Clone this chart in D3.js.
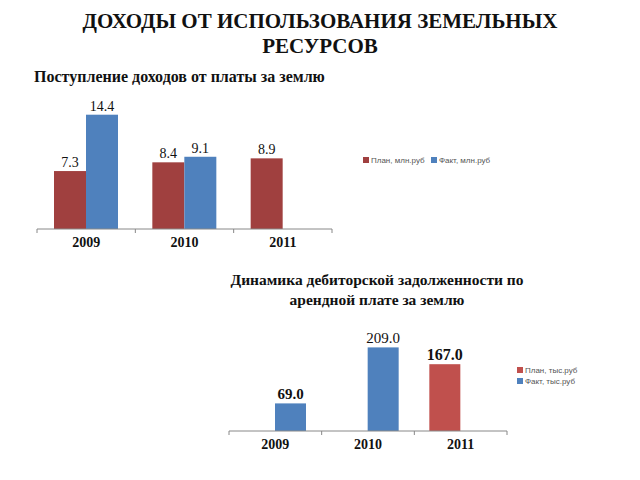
<!DOCTYPE html>
<html><head><meta charset="utf-8">
<script src="https://cdn.jsdelivr.net/npm/d3@7"></script>
<style>body{margin:0;background:#fff}svg{display:block}</style>
</head><body>
<script>
const years = ["2009", "2010", "2011"];
const incomeSeries = ["План, млн.руб", "Факт, млн.руб"];
const incomePlan = [7.3, 8.4, 8.9];
const incomeFact = [14.4, 9.1, null];
const debtSeries = ["План, тыс.руб", "Факт, тыс.руб"];
const debtPlan = [null, null, 167.0];
const debtFact = [69.0, 209.0, null];

const svg = d3.select("body").append("svg").attr("width", 640).attr("height", 480);
const serif = "Liberation Serif, Times New Roman, serif";
const sans = "Liberation Sans, Arial, sans-serif";

// Titles
const t = svg.append("g").attr("font-family", serif).attr("font-weight", "bold").attr("fill", "#111");
t.append("text").attr("x", 320).attr("y", 28).attr("text-anchor", "middle").attr("font-size", 21).text("ДОХОДЫ ОТ ИСПОЛЬЗОВАНИЯ ЗЕМЕЛЬНЫХ");
t.append("text").attr("x", 320).attr("y", 53).attr("text-anchor", "middle").attr("font-size", 21).text("РЕСУРСОВ");
t.append("text").attr("x", 34).attr("y", 82).attr("font-size", 16).text("Поступление доходов от платы за землю");
t.append("text").attr("x", 377).attr("y", 285).attr("text-anchor", "middle").attr("font-size", 15.5).text("Динамика дебиторской задолженности по");
t.append("text").attr("x", 377).attr("y", 305).attr("text-anchor", "middle").attr("font-size", 15.5).text("арендной плате за землю");

function drawChart(cfg) {
  const g = svg.append("g");
  const x = d3.scaleBand().domain(years).range([cfg.x0, cfg.x1]).padding(0);
  const inner = d3.scaleBand().domain(cfg.series).range(cfg.inner);
  const y = d3.scaleLinear().domain([0, cfg.ymax]).range([cfg.base, cfg.base - cfg.h]);
  const rows = [];
  years.forEach((yr, i) => {
    cfg.values.forEach((arr, s) => {
      if (arr[i] != null) rows.push({year: yr, series: cfg.series[s], s, v: arr[i]});
    });
  });
  g.selectAll("rect").data(rows).join("rect")
    .attr("x", d => x(d.year) + inner(d.series))
    .attr("width", inner.bandwidth())
    .attr("y", d => y(d.v))
    .attr("height", d => cfg.base - y(d.v))
    .attr("fill", d => cfg.colors[d.s]);
  g.selectAll("text.lbl").data(rows).join("text").attr("class", "lbl")
    .attr("x", d => x(d.year) + inner(d.series) + inner.bandwidth() / 2)
    .attr("y", d => y(d.v) - 4)
    .attr("text-anchor", "middle")
    .attr("font-family", serif)
    .attr("font-size", d => cfg.lblStyle(d).size)
    .attr("font-weight", d => cfg.lblStyle(d).weight)
    .attr("fill", "#111")
    .text(d => d.v.toFixed(1));
  // axis
  const ax = g.append("g").attr("transform", `translate(0,${cfg.base})`)
    .call(d3.axisBottom(x).tickSize(0).tickPadding(0));
  ax.select(".domain").attr("stroke", "#888").attr("d", `M${cfg.x0},0H${cfg.x1}`);
  ax.selectAll(".tick text").attr("font-family", serif).attr("font-size", 14)
    .attr("font-weight", "bold").attr("fill", "#111").attr("dy", 0).attr("y", cfg.yearDy);
  const edges = years.map(d => x(d)).concat([cfg.x1]);
  g.selectAll("line.tk").data(edges).join("line").attr("class", "tk")
    .attr("x1", d => d).attr("x2", d => d).attr("y1", cfg.base).attr("y2", cfg.base + 4)
    .attr("stroke", "#888");
  // legend
  const lg = g.append("g").attr("font-family", sans).attr("font-size", 8).attr("fill", "#555");
  cfg.series.forEach((s, i) => {
    const p = cfg.legendPos(i);
    lg.append("rect").attr("x", p[0]).attr("y", p[1] - 6).attr("width", 6).attr("height", 6).attr("fill", cfg.colors[i]);
    lg.append("text").attr("x", p[0] + 8).attr("y", p[1]).text(s);
  });
}

drawChart({
  series: incomeSeries, values: [incomePlan, incomeFact],
  colors: ["#A0403F", "#4F81BD"],
  x0: 37, x1: 332, inner: [17, 81], base: 229, ymax: 16, h: 127, yearDy: 18,
  lblStyle: () => ({size: 14, weight: "normal"}),
  legendPos: i => i === 0 ? [363, 163] : [431, 163]
});

const debtLabelStyle = {"2009": {size: 15, weight: "bold"}, "2010": {size: 15, weight: "normal"}, "2011": {size: 16, weight: "bold"}};
drawChart({
  series: debtSeries, values: [debtPlan, debtFact],
  colors: ["#C0504D", "#4F81BD"],
  x0: 229, x1: 507, inner: [15, 77], base: 431, ymax: 250, h: 100, yearDy: 18,
  lblStyle: d => debtLabelStyle[d.year],
  legendPos: i => [517, 373 + i * 11]
});
</script>
</body></html>
